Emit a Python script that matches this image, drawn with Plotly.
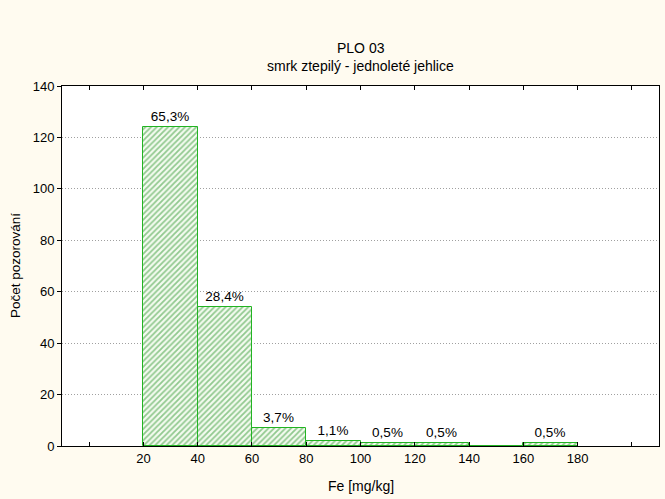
import plotly.graph_objects as go

bin_left = [20, 40, 60, 80, 100, 120, 140, 160]
counts = [124, 54, 7, 2, 1, 1, 0, 1]
x_ticks = [0, 20, 40, 60, 80, 100, 120, 140, 160, 180, 200]
x_tick_labels = ["", "20", "40", "60", "80", "100", "120", "140", "160", "180", ""]
y_ticks = [0, 20, 40, 60, 80, 100, 120, 140]

total = sum(counts)
labels = [("%.1f%%" % (c * 100.0 / total)).replace(".", ",") if c > 0 else "" for c in counts]
centers = [b + 10 for b in bin_left]

FONT = "Liberation Sans, Arial"

fig = go.Figure()
fig.add_trace(go.Bar(
    x=centers, y=counts, width=[20] * len(counts),
    text=labels, textposition="outside", cliponaxis=False,
    textfont=dict(family=FONT, size=13.5, color="black"),
    marker=dict(color="white",
                line=dict(color="#22B422", width=1),
                pattern=dict(shape="/", fgcolor="#2E962E", bgcolor="#F4FBF0", size=4, solidity=0.45)),
    showlegend=False,
))

fig.update_layout(
    width=665, height=499,
    paper_bgcolor="#FFFBF0", plot_bgcolor="white",
    margin=dict(l=62, r=6, t=86, b=53, autoexpand=False),
    font=dict(family=FONT, size=13, color="black"),
    bargap=0,
    annotations=[
        dict(text="PLO 03", xref="paper", yref="paper", x=0.5, y=1 + (86 - 48) / 360.0,
             xanchor="center", yanchor="middle", showarrow=False, font=dict(size=14)),
        dict(text="smrk ztepilý - jednoleté jehlice", xref="paper", yref="paper", x=0.5,
             y=1 + (86 - 66) / 360.0, xanchor="center", yanchor="middle", showarrow=False, font=dict(size=14)),
        dict(text="Fe [mg/kg]", xref="paper", yref="paper", x=0.5, y=-(486 - 446) / 360.0,
             xanchor="center", yanchor="middle", showarrow=False, font=dict(size=14)),
        dict(text="Počet pozorování", xref="paper", yref="paper", x=-(62 - 15) / 597.0, y=0.5,
             xanchor="center", yanchor="middle", showarrow=False, textangle=-90, font=dict(size=13.5)),
    ],
)
fig.update_xaxes(
    range=[-10, 210], tickmode="array", tickvals=x_ticks, ticktext=x_tick_labels,
    ticks="inside", ticklen=4, tickcolor="black", automargin=False,
    showline=True, linecolor="black", linewidth=1, mirror="ticks",
    showgrid=False, zeroline=False,
)
fig.update_yaxes(
    range=[0, 140], tickmode="array", tickvals=y_ticks,
    ticks="outside", ticklen=4, tickcolor="black", automargin=False,
    showline=True, linecolor="black", linewidth=1, mirror=True,
    showgrid=True, gridcolor="#A0A0A0", griddash="1px,2px", gridwidth=1,
    zeroline=False,
)
fig.write_html("out.html", config={"displayModeBar": False},
               post_script="document.body.style.margin='0';document.body.style.overflow='hidden';")
